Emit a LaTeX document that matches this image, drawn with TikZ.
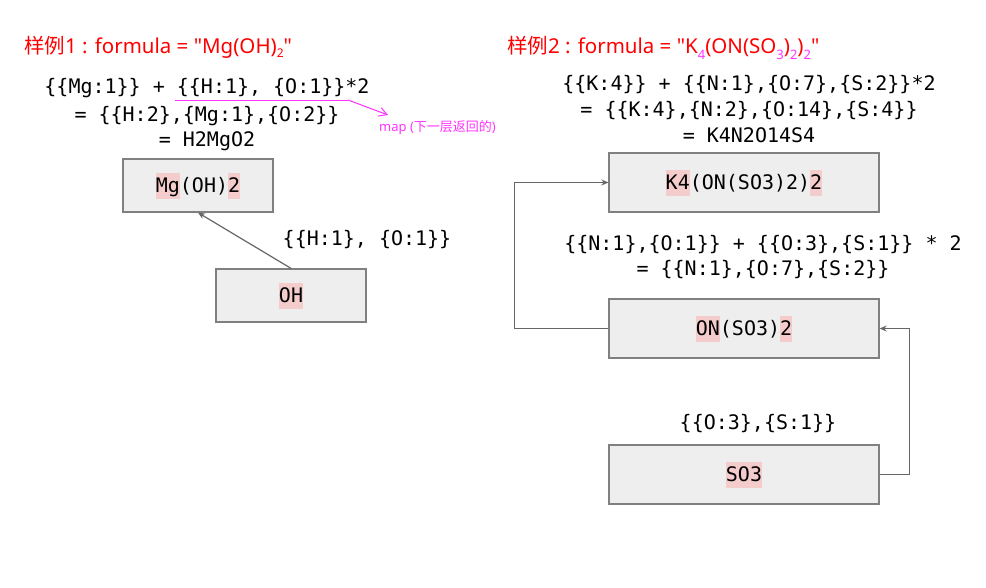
\documentclass[tikz,border=0pt]{standalone}
\usepackage{fontspec}
\setmainfont{Noto Sans}[Ligatures=TeXOff]
\newfontfamily\cjk{Noto Sans CJK SC}
\newfontfamily\mono{DejaVu Sans Mono}
\usetikzlibrary{arrows.meta}
\definecolor{hlpink}{HTML}{F4CCCC}
\definecolor{boxfill}{HTML}{EEEEEE}
\definecolor{boxline}{HTML}{808080}
\definecolor{linegray}{HTML}{666666}
\definecolor{magentac}{HTML}{FF33FF}
\definecolor{titlered}{HTML}{FF0000}
\newcommand{\hlt}[1]{{\setlength{\fboxsep}{0pt}\colorbox{hlpink}{\rule[-6pt]{0pt}{26pt}#1}}}
\newcommand{\subred}[1]{\raisebox{-4pt}{\fontsize{12}{12}\selectfont #1}}
\newcommand{\submag}[1]{\raisebox{-6pt}{\fontsize{13}{13}\selectfont\color{magentac}#1}}
\begin{document}
\begin{tikzpicture}[x=1pt,y=-1pt,
  monotext/.style={font=\mono\fontsize{20}{24}\selectfont, inner sep=0pt, anchor=base},
  titletext/.style={font=\fontsize{20.5}{24}\selectfont, text=titlered, inner sep=0pt, anchor=base west},
  chembox/.style={draw=boxline, fill=boxfill, line width=1.3pt, inner sep=0pt,
    font=\mono\fontsize{20}{24}\selectfont},
  smallbox/.style={chembox, minimum width=150pt, minimum height=53pt},
  widebox/.style={chembox, minimum width=270pt, minimum height=59pt},
  link/.style={draw=linegray, line width=1.2pt, -{Stealth[length=7pt,width=6pt]}},
  mapline/.style={draw=magentac, line width=1pt},
]
\useasboundingbox (0,0) rectangle (986,587);

% ---------- example 1 ----------
\node[titletext] (t1) at (24,53) {{\cjk 样例}1 : formula = "Mg(OH)\subred{2}"};
\node[monotext] (l1a) at (207,93) {\{\{Mg:1\}\} + \{\{H:1\}, \{O:1\}\}*2};
\node[monotext] (l1b) at (207,121) {= \{\{H:2\},\{Mg:1\},\{O:2\}\}};
\node[monotext] (l1c) at (207,146) {= H2MgO2};

\coordinate (ulA) at (175,100);
\coordinate (ulB) at (348,100);
\coordinate (ulC) at (388,115);
\draw[mapline] (ulA) -- (ulB);
\draw[mapline, -{Straight Barb[length=8pt,width=9pt]}] (ulB) -- (ulC);
\node[font=\fontsize{13}{15}\selectfont, text=magentac, inner sep=0pt, anchor=base west]
  (maplbl) at (379,131) {map ({\cjk 下一层返回的})};

\node[smallbox] (mg) at (198,185.5) {\hlt{Mg}(OH)\hlt{2}};
\node[smallbox] (oh) at (291,295.5) {\hlt{OH}};
\draw[link] (oh.north) -- (mg.south);
\node[monotext] (lblOH) at (367,245) {\{\{H:1\}, \{O:1\}\}};

% ---------- example 2 ----------
\node[titletext] (t2) at (507,53) {{\cjk 样例}2 : formula = "K\submag{4}(ON(SO\submag{3})\submag{2})\submag{2}"};
\node[monotext] (r1a) at (749,90) {\{\{K:4\}\} + \{\{N:1\},\{O:7\},\{S:2\}\}*2};
\node[monotext] (r1b) at (749,116) {= \{\{K:4\},\{N:2\},\{O:14\},\{S:4\}\}};
\node[monotext] (r1c) at (749,142) {= K4N2O14S4};

\node[widebox] (k4) at (744,182.5) {\hlt{K4}(ON(SO3)2)\hlt{2}};
\node[widebox] (on) at (744,328.5) {\hlt{ON}(SO3)\hlt{2}};
\node[widebox] (so) at (744,474.5) {\hlt{SO3}};

\node[monotext] (lblON1) at (763,250) {\{\{N:1\},\{O:1\}\} + \{\{O:3\},\{S:1\}\} * 2};
\node[monotext] (lblON2) at (763,275) {= \{\{N:1\},\{O:7\},\{S:2\}\}};
\node[monotext] (lblSO) at (758,429) {\{\{O:3\},\{S:1\}\}};

\draw[link] (on.west) -- ++(-94,0) |- (k4.west);
\draw[link] (so.east) -- ++(30,0) |- (on.east);
\end{tikzpicture}
\end{document}
